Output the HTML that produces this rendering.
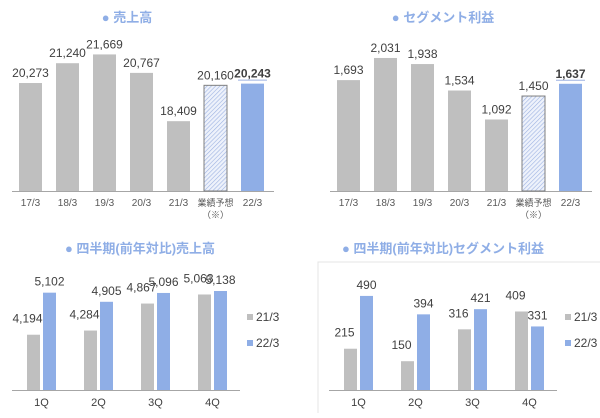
<!DOCTYPE html>
<html><head><meta charset="utf-8"><style>
html,body{margin:0;padding:0;background:#fff;}
body{width:600px;height:413px;overflow:hidden;font-family:"Liberation Sans","Noto Sans CJK JP",sans-serif;}
</style></head><body>
<svg id="c" width="600" height="413" xmlns="http://www.w3.org/2000/svg">
<defs><pattern id="hatch" width="3" height="3" patternUnits="userSpaceOnUse" patternTransform="rotate(45)"><rect width="3" height="3" fill="#eef2fb"/><line x1="0" y1="0" x2="0" y2="3" stroke="#9db2e2" stroke-width="1.2"/></pattern></defs>
<rect x="318" y="262" width="290" height="160" fill="none" stroke="#e4e4e4"/>
</svg>
<script>
const annualCats = ["17/3","18/3","19/3","20/3","21/3","業績予想","22/3"];
const salesValues = [20273,21240,21669,20767,18409,20160,20243];
const profitValues = [1693,2031,1938,1534,1092,1450,1637];
const quarterCats = ["1Q","2Q","3Q","4Q"];
const qSales21 = [4194,4284,4867,5063];
const qSales22 = [5102,4905,5096,5138];
const qProfit21 = [215,150,316,409];
const qProfit22 = [490,394,421,331];
const seriesNames = ["21/3","22/3"];

const svg = document.getElementById('c');
const NS = "http://www.w3.org/2000/svg";
function el(tag, attrs, text){const e=document.createElementNS(NS,tag);for(const k in attrs)e.setAttribute(k,attrs[k]);if(text!==undefined)e.textContent=text;svg.appendChild(e);return e;}
const fmt = v => v.toLocaleString('en-US');
const GREY="#bfbfbf", BLUE="#8faee6";

function title(x,y,t,name){
  const e=el('text',{x:x,y:y,'text-anchor':'middle','font-size':13,'font-weight':'bold',fill:'#8faee6'},'● '+t);
  
  
}

function annual(cfg, vals, prefix){
  const y = v => cfg.base - (v - cfg.min) * cfg.scale;
  const ax=el('line',{x1:cfg.x0-7,x2:cfg.x0+37*7-4,y1:cfg.base+0.5,y2:cfg.base+0.5,stroke:'#a6a6a6','stroke-width':1});
  
  
  vals.forEach((v,i)=>{
    const x = cfg.x0 + i*37;
    const top = y(v);
    const fill = i===5 ? 'url(#hatch)' : (i===6 ? BLUE : GREY);
    const r=el('rect',{x:x,y:top,width:23,height:cfg.base-top,fill:fill,stroke:i===5?'#7f7f7f':'none','stroke-width':1});
    
    
    const t=el('text',{x:x+11.5,y:top-6,'text-anchor':'middle','font-size':12,fill:'#404040','font-weight':i===6?'bold':'normal'},fmt(v));
    
    
    if(i===6){const u=el('line',{x1:x-3,x2:x+26,y1:top-3.5,y2:top-3.5,stroke:'#9db2e2','stroke-width':1});
      
      }
    const lab=el('text',{x:x+11.5,y:cfg.base+15,'text-anchor':'middle','font-size':i===5?9:10,fill:'#595959'},annualCats[i]);
    
    
    if(i===5){const l2=el('text',{x:x+11.5,y:cfg.base+27,'text-anchor':'middle','font-size':9,fill:'#595959'},'（※）');
      
      }
  });
}

function quarterly(cfg, a, b, prefix){
  const y = v => cfg.base - (v - cfg.min) * cfg.scale;
  const ax=el('line',{x1:cfg.x0-15,x2:cfg.x0+57*4-15,y1:cfg.base+0.5,y2:cfg.base+0.5,stroke:'#a6a6a6'});
  
  
  quarterCats.forEach((q,i)=>{
    const x = cfg.x0 + i*57;
    [a[i],b[i]].forEach((v,j)=>{
      const bx = x + j*16, top=y(v);
      const r=el('rect',{x:bx,y:top,width:13,height:cfg.base-top,fill:j?BLUE:GREY});
      
      
      const t=el('text',{x:bx+6.5+(j?0:-6),y:top-(j?7:12),'text-anchor':'middle','font-size':12,fill:'#404040'},fmt(v));
      
      
    });
    const lab=el('text',{x:x+14.5,y:cfg.base+16,'text-anchor':'middle','font-size':11,fill:'#404040'},q);
    
    
  });
  seriesNames.forEach((s,j)=>{
    const ly = 318 + j*26;
    const sq=el('rect',{x:cfg.legX,y:ly-4,width:6,height:6,fill:j?BLUE:GREY});
    
    
    const lt=el('text',{x:cfg.legX+9,y:ly+3,'font-size':12,fill:'#404040'},s);
    
    
  });
}

title(127,22,'売上高','sales-title');
title(443,22,'セグメント利益','profit-title');
title(140,253,'四半期(前年対比)売上高','quarterly-sales-title');
title(443,253,'四半期(前年対比)セグメント利益','quarterly-profit-title');
annual({x0:19,base:191,min:15000,scale:0.02048}, salesValues, 'sales');
annual({x0:337,base:191,min:0,scale:0.0655}, profitValues, 'profit');
quarterly({x0:27,base:390,min:3000,scale:0.0463,legX:247}, qSales21, qSales22, 'qsales');
quarterly({x0:344,base:390,min:0,scale:0.192,legX:565}, qProfit21, qProfit22, 'qprofit');
</script>
</body></html>
